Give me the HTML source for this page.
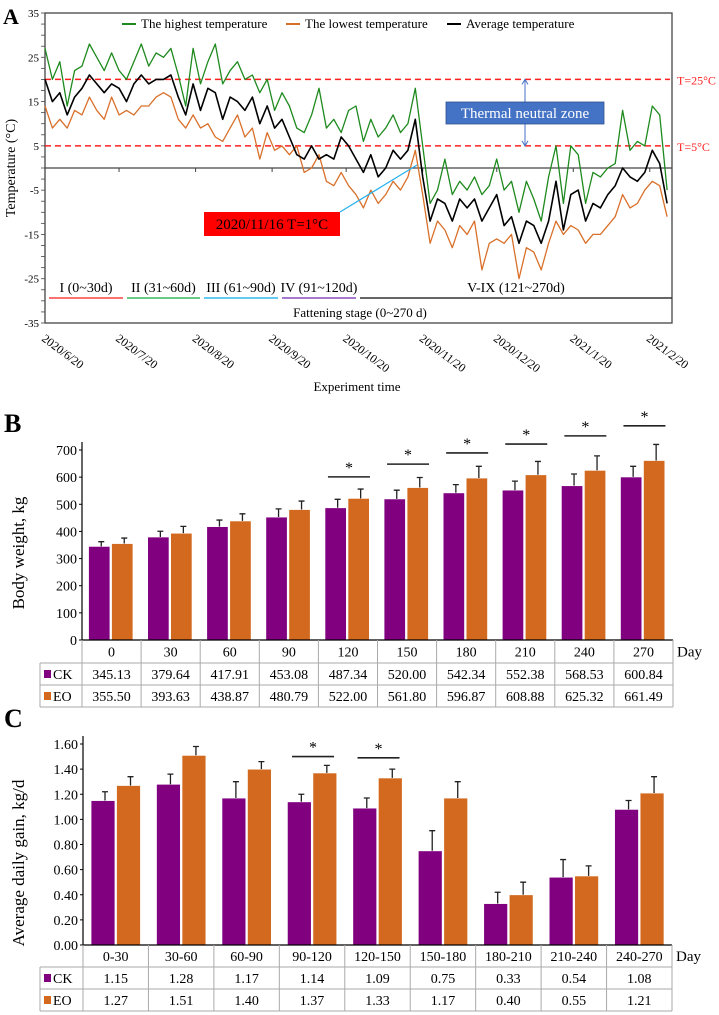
<!DOCTYPE html>
<html><head><meta charset="utf-8"><style>
body{margin:0;background:#fff}
svg{display:block;font-family:"Liberation Serif",serif}
</style></head><body>
<svg id="fig" width="719" height="1015" viewBox="0 0 719 1015">
<g id="pa"></g>
<g id="pb"></g>
<g id="pc"></g>
</svg>
<script>
// Panel A data (every 3 days from 2020/6/20)
const tempDays = [0,3,6,9,12,15,18,21,24,27,30,33,36,39,42,45,48,51,54,57,60,63,66,69,72,75,78,81,84,87,90,93,96,99,102,105,108,111,114,117,120,123,126,129,132,135,138,141,144,147,150,153,156,159,162,165,168,171,174,177,180,183,186,189,192,195,198,201,204,207,210,213,216,219,222,225,228,231,234,237,240,243,246,249,252];
const highTemp = [27,20,24,14,22,23,28,25,22,26,22,20,24,28,23,26,25,27,21,14,27,19,24,28,19,22,24,20,21,17,20,13,17,14,9,8,12,18,9,11,8,13,14,6,11,7,9,12,8,10,18,5,-8,-5,2,-6,-3,-5,-2,-6,-4,2,-5,-3,-10,-3,-7,-12,-2,5,-8,5,3,-8,-1,-2,0,1,13,4,6,5,14,12,-5];
const avgTemp = [20,15,17,12,16,18,21,19,17,19,18,15,19,21,19,20,20,21,16,12,19,13,18,17,11,16,15,13,16,10,14,9,11,7,3,2,5,2,3,2,7,5,2,-1,3,-2,0,4,2,4,11,-2,-12,-7,-8,-12,-7,-9,-7,-12,-9,-6,-13,-11,-17,-12,-13,-17,-12,-3,-14,-6,-5,-12,-8,-9,-6,-4,0,-2,-3,-1,4,1,-8];
const lowTemp = [14,9,11,9,13,12,16,13,11,16,12,13,12,14,14,16,17,16,11,9,12,9,10,7,6,9,12,7,9,2,8,4,5,3,5,-1,0,3,-3,-4,-1,-4,-6,-9,-5,-8,-6,-3,-5,-2,4,-6,-17,-12,-14,-18,-13,-15,-12,-23,-17,-16,-17,-15,-25,-18,-19,-23,-17,-12,-15,-13,-14,-17,-15,-15,-13,-11,-6,-9,-8,-5,-3,-4,-11];
const tempTicks = [35,25,15,5,-5,-15,-25,-35];
const dateLabels = ["2020/6/20","2020/7/20","2020/8/20","2020/9/20","2020/10/20","2020/11/20","2020/12/20","2021/1/20","2021/2/20"];
const dateDays = [0,30,61,92,122,153,183,214,245];
// Panel B data
const bwDays = ["0","30","60","90","120","150","180","210","240","270"];
const bwCK = [345.13,379.64,417.91,453.08,487.34,520.00,542.34,552.38,568.53,600.84];
const bwEO = [355.50,393.63,438.87,480.79,522.00,561.80,596.87,608.88,625.32,661.49];
const bwCKerr = [17,21,24,30,31,32,30,33,43,39];
const bwEOerr = [20,25,26,31,34,37,43,49,53,59];
const bwSig = [false,false,false,false,true,true,true,true,true,true];
const bwSigLevel = [0,0,0,0,601,648,689,722,752,789];
const bwTicks = [0,100,200,300,400,500,600,700];
// Panel C data
const adgPeriods = ["0-30","30-60","60-90","90-120","120-150","150-180","180-210","210-240","240-270"];
const adgCK = [1.15,1.28,1.17,1.14,1.09,0.75,0.33,0.54,1.08];
const adgEO = [1.27,1.51,1.40,1.37,1.33,1.17,0.40,0.55,1.21];
const adgCKerr = [0.07,0.08,0.13,0.06,0.08,0.16,0.09,0.14,0.07];
const adgEOerr = [0.07,0.07,0.06,0.06,0.07,0.13,0.10,0.08,0.13];
const adgSig = [false,false,false,true,true,false,false,false,false];
const adgSigLevel = [0,0,0,1.50,1.49,0,0,0,0];
const adgTicks = [0,0.2,0.4,0.6,0.8,1.0,1.2,1.4,1.6];

const NS="http://www.w3.org/2000/svg";
function mk(parent,tag,attrs,text){const e=document.createElementNS(NS,tag);for(const k in attrs)e.setAttribute(k,attrs[k]);if(text!==undefined)e.textContent=text;parent.appendChild(e);return e;}
const PURPLE="#800080", ORANGE="#D2691E";

// ---------- Panel A ----------
(function(){
const g=document.getElementById('pa');
const L=45,R=672,T=13,B=323;
const xA=d=>L+d*(R-L)/254;
const yA=v=>T+(35-v)*(B-T)/70;
let e;
e=mk(g,'text',{x:3,y:24,'font-size':22,'font-weight':'bold'},'A');

e=mk(g,'rect',{x:L,y:T,width:R-L,height:B-T,fill:'none',stroke:'#444','stroke-width':1.3});

for(let v=-35;v<=35;v+=2.5){mk(g,'line',{x1:L-4,x2:L,y1:yA(v),y2:yA(v),stroke:'#444','stroke-width':0.8});}
tempTicks.forEach(v=>{e=mk(g,'text',{x:L-6,y:yA(v)+4,'font-size':11,'text-anchor':'end'},String(v));
});
e=mk(g,'text',{x:0,y:0,'font-size':14,'text-anchor':'middle',transform:`translate(15,${yA(0)}) rotate(-90)`},'Temperature (°C)');

e=mk(g,'line',{x1:L,x2:R,y1:yA(0),y2:yA(0),stroke:'#444','stroke-width':1.3});

dateDays.forEach((d,i)=>{const x=xA(d);
mk(g,'line',{x1:x,x2:x,y1:yA(0),y2:yA(0)+4,stroke:'#444','stroke-width':1});
e=mk(g,'text',{x:0,y:0,'font-size':12,transform:`translate(${x-4},${B+17}) rotate(37)`},dateLabels[i]);
});
e=mk(g,'text',{x:357,y:391,'font-size':13,'text-anchor':'middle'},'Experiment time');

[[20,'T=25°C'],[5,'T=5°C']].forEach(([v,t])=>{
e=mk(g,'line',{x1:L,x2:R-2,y1:yA(v),y2:yA(v),stroke:'#ff2020','stroke-width':1.5,'stroke-dasharray':'6,4'});

e=mk(g,'text',{x:677,y:yA(v)+5,'font-size':12,fill:'#ff2020'},t);
});
function line(arr,color,name,w){const pts=arr.map((v,i)=>xA(tempDays[i]).toFixed(1)+','+yA(v).toFixed(1)).join(' ');
const p=mk(g,'polyline',{points:pts,fill:'none',stroke:color,'stroke-width':w,'stroke-linejoin':'round'});
}
line(highTemp,'#1e8a1e','highest-temperature-line',1.3);
line(lowTemp,'#d9702a','lowest-temperature-line',1.3);
line(avgTemp,'#000','average-temperature-line',1.6);
[[122,'#1e8a1e','The highest temperature'],[286,'#d9702a','The lowest temperature'],[447,'#000','Average temperature']].forEach(([x,c,t])=>{
e=mk(g,'line',{x1:x,x2:x+14,y1:24,y2:24,stroke:c,'stroke-width':2});

e=mk(g,'text',{x:x+19,y:28,'font-size':13},t);
});
e=mk(g,'line',{x1:525,x2:525,y1:yA(20)+1,y2:yA(5)-1,stroke:'#4472C4','stroke-width':1});

mk(g,'path',{d:`M522,${yA(20)+5} L525,${yA(20)} L528,${yA(20)+5}`,fill:'none',stroke:'#4472C4'});
mk(g,'path',{d:`M522,${yA(5)-5} L525,${yA(5)} L528,${yA(5)-5}`,fill:'none',stroke:'#4472C4'});
e=mk(g,'rect',{x:446,y:102,width:158,height:22,fill:'#4472C4',stroke:'#2f528f','stroke-width':0.8});

e=mk(g,'text',{x:525,y:118,'font-size':15,fill:'#fff','text-anchor':'middle'},'Thermal neutral zone');

e=mk(g,'line',{x1:340,x2:417,y1:212,y2:165,stroke:'#22b0f0','stroke-width':1.2});

e=mk(g,'rect',{x:204,y:212,width:136,height:24,fill:'#ff0000'});

e=mk(g,'text',{x:272,y:229,'font-size':15,'text-anchor':'middle'},'2020/11/16  T=1°C');

[[49,123,'#ff4040','I (0~30d)'],[127,200,'#3cb860','II (31~60d)'],[204,278,'#30b8f0','III (61~90d)'],[282,356,'#8a4cc0','IV (91~120d)'],[360,672,'#333','V-IX (121~270d)']].forEach(([a,b,c,t])=>{
e=mk(g,'line',{x1:a,x2:b,y1:298,y2:298,stroke:c,'stroke-width':1.6});

e=mk(g,'text',{x:(a+b)/2,y:292,'font-size':14,'text-anchor':'middle'},t);
});
e=mk(g,'text',{x:360,y:317,'font-size':13,'text-anchor':'middle'},'Fattening stage (0~270 d)');

})();

// ---------- bar panels ----------
function barPanel(g,cfg){
const {L,R,T0,Bt,max,ticks,fmt,cats,ck,eo,ckErr,eoErr,sig,sigLvl,off,bw,rows,letterY,letter,title,titleY,tickFmt}=cfg;
const n=cats.length,gw=(R-L)/n;
const y=v=>Bt-v*(Bt-T0)/max;
let e;
e=mk(g,'text',{x:4,y:letterY,'font-size':26,'font-weight':'bold'},letter);

e=mk(g,'text',{x:0,y:0,'font-size':17,'text-anchor':'middle',transform:`translate(24,${titleY}) rotate(-90)`},title);

ticks.forEach(v=>{mk(g,'line',{x1:L-3,x2:L,y1:y(v),y2:y(v),stroke:'#000'});
e=mk(g,'text',{x:L-5,y:y(v)+5,'font-size':14,'text-anchor':'end'},tickFmt(v));
});
cats.forEach((c,i)=>{const gx=L+i*gw;
[[ck[i],ckErr[i],PURPLE,gx+off,'bar-ck-'+c],[eo[i],eoErr[i],ORANGE,gx+off+bw+1.5,'bar-eo-'+c]].forEach(([v,er,col,x,nm])=>{
const b=mk(g,'rect',{x:x,y:y(v),width:bw,height:Bt-y(v),fill:col,stroke:'#fff','stroke-width':0.8});

const cx=x+bw/2+2;
const el=mk(g,'path',{d:`M${cx},${y(v)} V${y(v+er)} M${cx-3},${y(v+er)} H${cx+3}`,stroke:'#222','stroke-width':1.3,fill:'none'});
});
if(sig[i]){const cx=gx+gw/2,yy=y(sigLvl[i]);
e=mk(g,'line',{x1:cx-20,x2:cx+22,y1:yy,y2:yy,stroke:'#222','stroke-width':1.6});

e=mk(g,'text',{x:cx+1,y:yy-4,'font-size':16,'text-anchor':'middle'},'*');
}
});
e=mk(g,'line',{x1:L,x2:L,y1:T0-8,y2:Bt,stroke:'#000','stroke-width':1.2});

const [r0,r1,r2,r3]=rows;
e=mk(g,'line',{x1:L,x2:R,y1:Bt,y2:Bt,stroke:'#000','stroke-width':1.3});

[r1,r2,r3].forEach(yy=>mk(g,'line',{x1:40,x2:R,y1:yy,y2:yy,stroke:'#aaa','stroke-width':1}));
mk(g,'line',{x1:40,x2:40,y1:r1,y2:r3,stroke:'#aaa'});
for(let i=0;i<=n;i++){const x=L+i*gw;mk(g,'line',{x1:x,x2:x,y1:r0,y2:r3,stroke:'#aaa'});}
e=mk(g,'text',{x:R+4,y:(r0+r1)/2+5,'font-size':15},'Day');

cats.forEach((c,i)=>{const cx=L+(i+0.5)*gw;
e=mk(g,'text',{x:cx,y:(r0+r1)/2+5,'font-size':14,'text-anchor':'middle'},c);

e=mk(g,'text',{x:cx,y:(r1+r2)/2+5,'font-size':14,'text-anchor':'middle'},fmt(ck[i]));

e=mk(g,'text',{x:cx,y:(r2+r3)/2+5,'font-size':14,'text-anchor':'middle'},fmt(eo[i]));
});
[[r1,r2,PURPLE,'CK'],[r2,r3,ORANGE,'EO']].forEach(([a,b,col,t])=>{
e=mk(g,'rect',{x:44,y:(a+b)/2-4,width:7,height:8,fill:col});

e=mk(g,'text',{x:53,y:(a+b)/2+5,'font-size':14},t);
});
}
barPanel(document.getElementById('pb'),{L:82,R:673,T0:450,Bt:640,max:700,ticks:bwTicks,fmt:v=>v.toFixed(2),tickFmt:v=>String(v),
cats:bwDays,ck:bwCK,eo:bwEO,ckErr:bwCKerr,eoErr:bwEOerr,sig:bwSig,sigLvl:bwSigLevel,off:6.5,bw:21.5,
rows:[640,663,685,707],letterY:432,letter:'B',title:'Body weight, kg',titleY:553});
barPanel(document.getElementById('pc'),{L:83,R:672,T0:744,Bt:945,max:1.6,ticks:adgTicks,fmt:v=>v.toFixed(2),tickFmt:v=>v.toFixed(2),
cats:adgPeriods,ck:adgCK,eo:adgEO,ckErr:adgCKerr,eoErr:adgEOerr,sig:adgSig,sigLvl:adgSigLevel,off:8,bw:24,
rows:[945,967,989,1011],letterY:727,letter:'C',title:'Average daily gain, kg/d',titleY:863});
</script>
</body></html>
